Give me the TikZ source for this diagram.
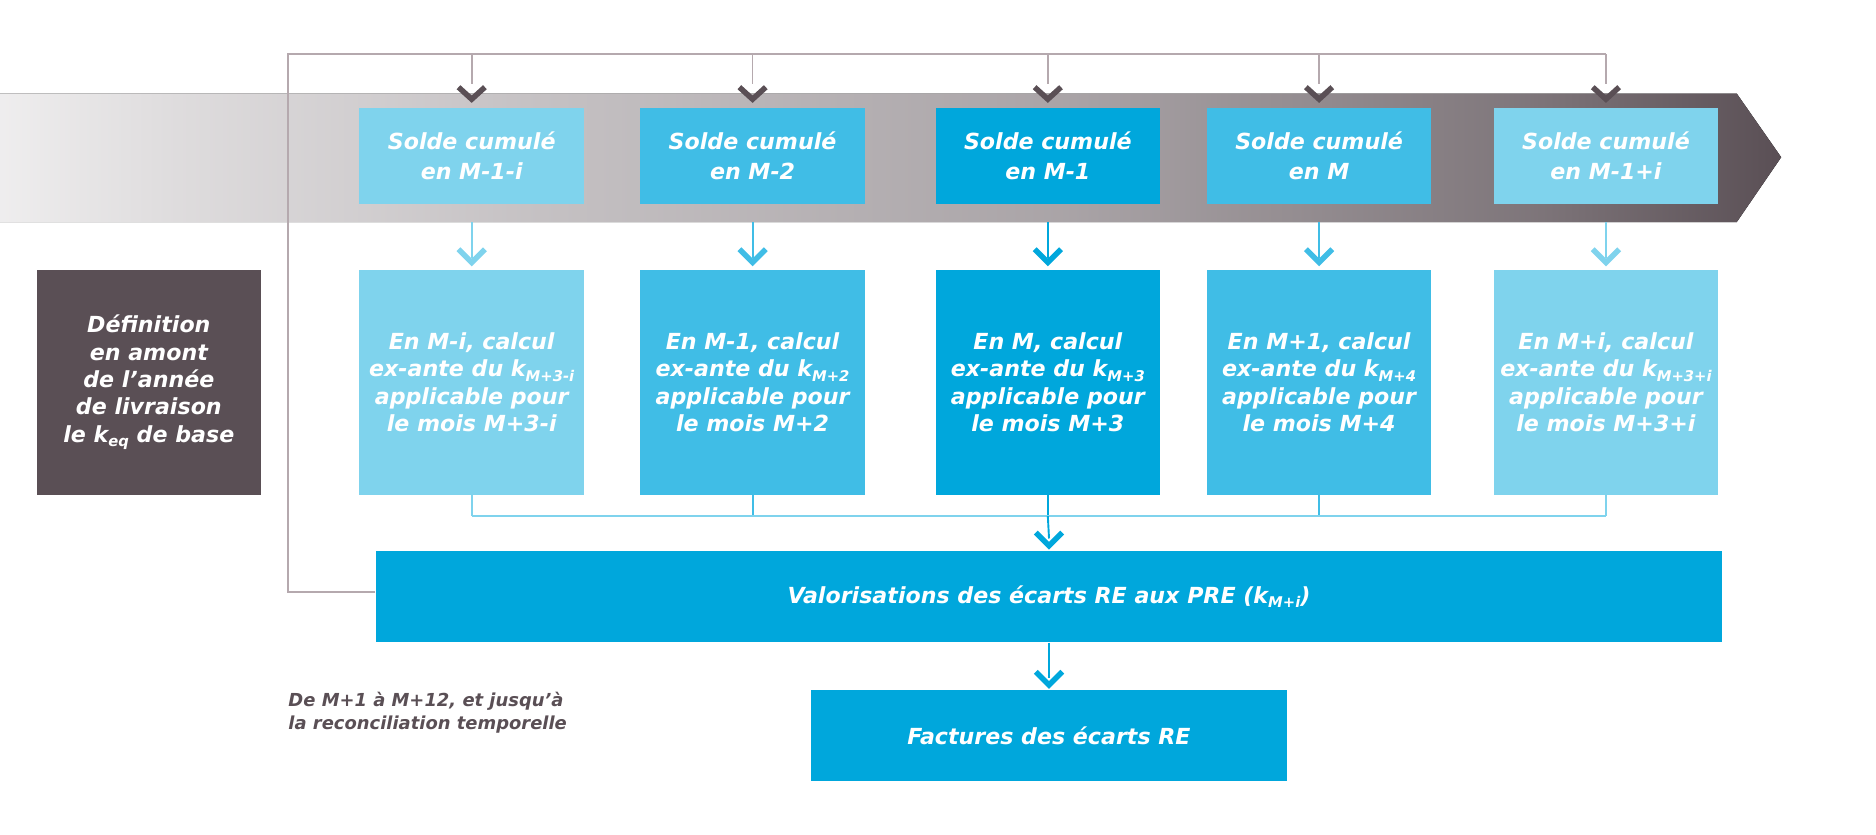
\documentclass[tikz,border=0pt]{standalone}
\usepackage{fontspec}
\setmainfont{DejaVu Sans}
\usepackage{tikz}
\usetikzlibrary{positioning}

\definecolor{plum}{HTML}{5A4F55}
\definecolor{feed}{HTML}{B5A9AE}
\definecolor{blueA}{HTML}{7FD3ED}
\definecolor{blueB}{HTML}{40BDE6}
\definecolor{blueC}{HTML}{00A7DC}

\pgfdeclarehorizontalshading{band}{100bp}{color(0bp)=(white); color(25bp)=(white!90!plum);
  color(30bp)=(white!80!plum); color(40bp)=(white!65!plum); color(55bp)=(white!48!plum);
  color(68bp)=(white!22!plum); color(75bp)=(plum); color(100bp)=(plum)}

\newcommand{\ksub}[1]{\raisebox{-0.35ex}{\scriptsize #1}}

\tikzset{
  box/.style={draw=none, minimum width=187*0.02cm, align=center, text=white,
    font=\fontsize{10.5}{14.3}\selectfont\bfseries\itshape, inner sep=0pt},
  top/.style={box, minimum height=80*0.02cm},
  mid/.style={box, minimum height=187*0.02cm, font=\fontsize{10.5}{13}\selectfont\bfseries\itshape},
  chev/.style={line width=2.6pt, line cap=butt, line join=miter},
  feedline/.style={draw=feed, line width=0.8pt}
}

\begin{document}
\begin{tikzpicture}[x=0.02cm, y=-0.02cm]
\useasboundingbox (0,0) rectangle (1563,695);

% the time band
\fill[shading=band] (0,78) -- (1447,78) -- (1484,131) -- (1447,185) -- (0,185) -- cycle;

% top row
\node[top, fill=blueA] (s1) at (393,130) {Solde cumulé\\en M-1-i};
\node[top, fill=blueB] (s2) at (627,130) {Solde cumulé\\en M-2};
\node[top, fill=blueC] (s3) at (873,130) {Solde cumulé\\en M-1};
\node[top, fill=blueB] (s4) at (1099,130) {Solde cumulé\\en M};
\node[top, fill=blueA] (s5) at (1338,130) {Solde cumulé\\en M-1+i};

% middle row
\node[mid, fill=blueA] (c1) at (393,318.5) {En M-i, calcul\\ex-ante du k\ksub{M+3-i}\\applicable pour\\le mois M+3-i};
\node[mid, fill=blueB] (c2) at (627,318.5) {En M-1, calcul\\ex-ante du k\ksub{M+2}\\applicable pour\\le mois M+2};
\node[mid, fill=blueC] (c3) at (873,318.5) {En M, calcul\\ex-ante du k\ksub{M+3}\\applicable pour\\le mois M+3};
\node[mid, fill=blueB] (c4) at (1099,318.5) {En M+1, calcul\\ex-ante du k\ksub{M+4}\\applicable pour\\le mois M+4};
\node[mid, fill=blueA] (c5) at (1338,318.5) {En M+i, calcul\\ex-ante du k\ksub{M+3+i}\\applicable pour\\le mois M+3+i};

\node[mid, fill=plum] (def) at (124,318.5) {Définition\\en amont\\de l’année\\de livraison\\le k\ksub{eq} de base};

% bottom
\node[box, fill=blueC, minimum width=1122*0.02cm, minimum height=76*0.02cm] (val) at (874,497)
  {Valorisations des écarts RE aux PRE (k\ksub{M+i})};
\node[box, fill=blueC, minimum width=396*0.02cm, minimum height=76*0.02cm] (fac) at (874,613)
  {Factures des écarts RE};
\node[align=left, anchor=north west, inner sep=0pt, text=plum,
  font=\fontsize{8.5}{11}\selectfont\bfseries\itshape] (note) at (240,576)
  {De M+1 à M+12, et jusqu’à\\la reconciliation temporelle};

% feedback from valorisation to the top row
\coordinate (fl) at (240,45);
\draw[feedline] (val.west |- 0,493) -| (fl) -- (fl -| s5);
\foreach \n in {s1,s2,s3,s4,s5}{
  \draw[feedline] (fl -| \n) -- ([yshift=20*0.02cm]\n.north);
  \draw[chev, draw=plum] ([shift={(-11*0.02cm,17*0.02cm)}]\n.north) -- ([yshift=7*0.02cm]\n.north) -- ([shift={(11*0.02cm,17*0.02cm)}]\n.north);
}

% top row to middle row
\foreach \n/\c/\col in {s1/c1/blueA,s2/c2/blueB,s3/c3/blueC,s4/c4/blueB,s5/c5/blueA}{
  \draw[\col, line width=0.9pt] (\n.south |- 0,185) -- ([yshift=10*0.02cm]\c.north);
  \draw[chev, draw=\col] ([shift={(-11*0.02cm,17*0.02cm)}]\c.north) -- ([yshift=6*0.02cm]\c.north) -- ([shift={(11*0.02cm,17*0.02cm)}]\c.north);
}

% middle row to valorisation
\coordinate (jn) at (873,430);
\foreach \c/\col in {c1/blueA,c2/blueB,c3/blueC,c4/blueB,c5/blueA}
  \draw[\col, line width=0.9pt] (\c.south) -- (\c.south |- jn);
\draw[blueA, line width=0.9pt] (jn -| c1) -- (jn -| c5);
\draw[blueC, line width=0.9pt] (jn) -- ([yshift=10*0.02cm]val.north);
\draw[chev, draw=blueC] ([shift={(-11*0.02cm,15*0.02cm)}]val.north) -- ([yshift=4*0.02cm]val.north) -- ([shift={(11*0.02cm,15*0.02cm)}]val.north);

% valorisation to invoices
\draw[blueC, line width=0.9pt] (val.south) -- ([yshift=10*0.02cm]fac.north);
\draw[chev, draw=blueC] ([shift={(-11*0.02cm,15*0.02cm)}]fac.north) -- ([yshift=4*0.02cm]fac.north) -- ([shift={(11*0.02cm,15*0.02cm)}]fac.north);
\end{tikzpicture}
\end{document}
